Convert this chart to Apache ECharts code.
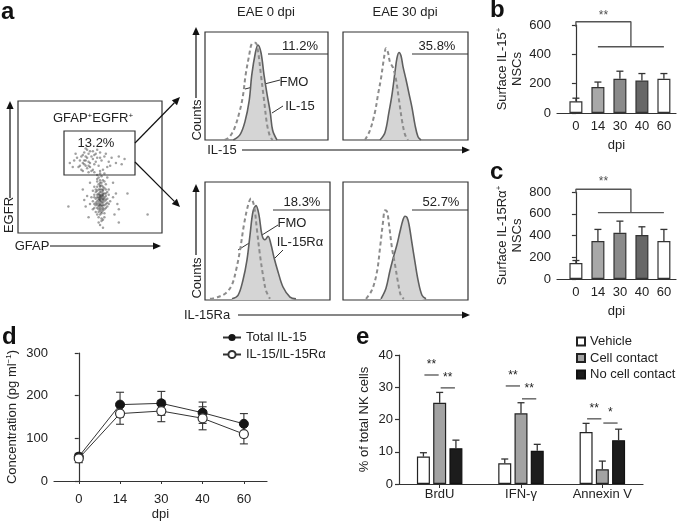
<!DOCTYPE html>
<html>
<head>
<meta charset="utf-8">
<script src="https://cdn.jsdelivr.net/npm/echarts@6.0.0/dist/echarts.min.js"></script>
<style>
  html, body { margin: 0; padding: 0; background: #fff; }
  #chart { width: 678px; height: 523px; }
</style>
</head>
<body>
<div id="chart"></div>
<script>
// ---- 数据 ----
// a: GFAP/EGFR events (GFAP, EGFR in arbitrary units 0-100)
const nscEvents = [
  [57,25],[55,22],[59,28],[56,30],[58,20],[54,26],[60,24],[57,33],[53,19],[61,30],
  [55,35],[58,15],[56,18],[59,21],[54,31],[62,26],[52,24],[57,28],[60,18],[55,27],
  [58,36],[56,12],[53,29],[61,22],[57,38],[59,32],[54,16],[63,29],[51,27],[58,9],
  [56,23],[60,34],[55,14],[57,17],[62,20],[52,32],[59,40],[55,39],[58,26],[54,21],
  [64,24],[50,22],[57,6],[61,37],[56,42],[53,35],[60,12],[63,33],[52,18],[57,45],
  [59,4],[66,27],[48,28],[58,31],[56,27],[55,24],[58,23],[57,21],[59,26],[56,33],
  [58,24],[57,27],[59,23],[56,25],[58,29],[60,27],[57,22],[59,30],[56,20],[58,18],
  [61,25],[55,29],[57,31],[60,21],[58,33],[56,16],[59,19],[57,14],[61,28],[54,23],
  [58,27],[59,25],[57,24],[60,30],[56,29],[58,21],[55,19],[59,35],[57,36],[62,23],
  [53,27],[60,15],[58,11],[56,37],[61,33],[57,29],[59,17],[55,32],[58,38],[60,39],
  [54,33],[62,31],[57,40],[56,8],[59,10],[63,22],[53,22],[58,43],[55,41],[61,19],
  [57,26],[58,28],[59,29],[56,26],[60,26],[57,19],[58,16],[56,21],[59,33],[57,35],
  [47,20],[68,30],[45,33],[70,18],[49,12],[66,38],[46,25],[69,22],[50,38],[67,14]
];
const gatedEvents = [
  [46,55],[48,57],[50,53],[44,58],[52,56],[47,51],[49,60],[45,53],[51,58],[43,55],
  [53,52],[48,49],[46,61],[55,57],[41,57],[50,62],[54,60],[47,58],[58,55],[42,50],
  [49,54],[44,48],[56,51],[52,48],[60,58],[39,55],[57,61],[63,54],[45,47],[51,47],
  [65,57],[40,60],[48,63],[62,50],[36,53],[68,53],[55,63],[59,48],[53,59],[47,55],
  [50,50],[46,52],[49,46],[54,54],[43,51],[52,62],[57,57],[45,59],[61,60],[49,51],
  [64,51],[38,50],[70,58],[53,46],[47,64],[72,52],[74,56]
];
const strayEvents = [[57,47],[55,44],[60,45],[90,14],[76,30],[35,20],[70,8],[62,42]];

// a: histograms [intensity, counts]
const fmoDay0IL15 = [[16,0],[20,3],[24,11],[28.5,28],[31,42],[33,60],[36,79],[38,89],[41,90],[43,83],[45.5,60],[48,37],[50.5,14],[53,3],[55,0]];
const il15Day0 = [[23,0],[28.5,5],[32.5,17],[36,37],[38,60],[41,81],[43,88],[45.5,81],[48,60],[50.5,42],[53,26],[55,9],[58.5,0]];
const fmoDay30IL15 = [[17.6,0],[21.6,9],[25.6,26],[28,42],[30.4,57],[32.8,76],[34.4,85],[36,81],[37.6,72],[40,67],[42.4,56],[44.8,37],[47.2,18],[49.6,5],[52,0]];
const il15Day30 = [[29.6,0],[33.6,7],[36.8,26],[39.2,42],[41.6,63],[43.2,76],[44.8,81],[46.4,78],[48,68],[50.4,56],[52.8,43],[55.2,30],[57.6,14],[60,3],[62.4,0]];
const fmoDay0Ra = [[4,1],[10.4,2.5],[16.8,6],[21.6,13],[24.8,25],[28,42],[31.2,64],[34.4,80],[36.8,86],[39.2,80],[41.6,59],[44,38],[46.4,21],[48.8,8],[52,1]];
const raDay0 = [[21.6,1],[26.4,4],[30.4,17],[33.6,34],[36,55],[38.4,75],[40.8,80],[43.2,72],[45.6,55],[48,51],[50.4,54],[52.8,47],[55.2,36],[58.4,24],[62.4,11],[68,2.5],[72.8,1]];
const fmoDay30Ra = [[18.4,1],[23.2,8.5],[27.2,24],[29.6,44],[32,66],[33.6,76],[35.2,75],[36.8,64],[39.2,44],[41.6,30],[44,15],[46.4,3.4],[48.8,1]];
const raDay30 = [[30.4,1],[34.4,10],[37.6,25],[40.8,38],[43.2,47],[45.6,58],[48,68],[49.6,71],[51.2,70],[52.8,64],[55.2,48],[57.6,32],[60,17],[63.2,4],[66.4,1]];

// b, c: surface NSCs by dpi
const dpiLabels = ['0', '14', '30', '40', '60'];
const surfIL15 = [80, 177, 234, 221, 234];
const surfIL15Err = [21, 34, 51, 48, 35];
const surfIL15Ra = [146, 350, 425, 404, 350];
const surfIL15RaErr = [24, 106, 107, 76, 106];
const barShades = ['#ffffff', '#a8a8a8', '#8a8a8a', '#676767', '#ffffff'];
// 显著性括号 (dpi index, value)
const bBracketTop = [[0, 588], [0, 622], [2.5, 622], [2.5, 452]];
const bBracketBase = [[1, 452], [4, 452]];
const bStar = [[1.25, 662]];
const cBracketTop = [[0, 788], [0, 825], [2.5, 825], [2.5, 610]];
const cBracketBase = [[1, 610], [4, 610]];
const cStar = [[1.25, 898]];

// d: serum concentration (pg/ml)
const totalIL15 = [57, 179, 182, 160, 134];
const totalIL15Err = [8, 29, 28, 25, 24];
const complexIL15 = [53, 158, 164, 147, 110];
const complexIL15Err = [10, 25, 25, 27, 23];

// e: % of total NK cells
const nkGroups = ['BrdU', 'IFN-γ', 'Annexin V'];
const vehicle = [8.5, 6.4, 16.1];
const vehicleErr = [1.2, 1.35, 2.7];
const cellContact = [25.2, 21.9, 4.55];
const cellContactErr = [3.2, 3.3, 2.55];
const noContact = [11.1, 10.3, 13.6];
const noContactErr = [2.5, 2.0, 3.4];
// [group, fromBar, toBar, value]
const nkSig = [[0, 0, 1, 33.8], [0, 1, 2, 29.8], [1, 0, 1, 30.4], [1, 1, 2, 26.4], [2, 0, 1, 20.2], [2, 1, 2, 18.9]];
const nkSigMarks = ['**', '**', '**', '**', '**', '*'];

// ---- 样式 ----
const FONT = '"Liberation Sans", Arial, Helvetica, sans-serif';
const INK = '#222';
const AXIS = '#333';
const BAR_STEP = 16.25;

const chart = echarts.init(document.getElementById('chart'));

function txt(x, y, text, extra) {
  return Object.assign({
    type: 'text', x: x, y: y, silent: true,
    style: Object.assign({
      text: text, fill: INK, fontSize: 13, fontFamily: FONT,
      align: 'center', verticalAlign: 'middle'
    }, (extra && extra.style) || {})
  }, extra && extra.rotation ? { rotation: extra.rotation } : {});
}

function seg(x1, y1, x2, y2, color, width) {
  return {
    type: 'line', silent: true,
    shape: { x1: x1, y1: y1, x2: x2, y2: y2 },
    style: { stroke: color || '#333', lineWidth: width || 1.2 }
  };
}

function arrow(x1, y1, x2, y2) {
  const dx = x2 - x1, dy = y2 - y1, L = Math.hypot(dx, dy);
  const ux = dx / L, uy = dy / L, h = 8, w = 3.6;
  const bx = x2 - ux * h, by = y2 - uy * h;
  return [
    seg(x1, y1, bx, by, '#111', 1.2),
    {
      type: 'polygon', silent: true,
      shape: { points: [[x2, y2], [bx - uy * w, by + ux * w], [bx + uy * w, by - ux * w]] },
      style: { fill: '#111' }
    }
  ];
}

// 误差线（向上）
function errUp(dx) {
  return function (params, api) {
    const x = api.value(0), v = api.value(1), e = api.value(2);
    const a = api.coord([x, v]), b = api.coord([x, v + e]);
    const cx = a[0] + dx;
    return {
      type: 'group', children: [
        { type: 'line', shape: { x1: cx, y1: a[1], x2: cx, y2: b[1] }, style: { stroke: AXIS, lineWidth: 1.3 } },
        { type: 'line', shape: { x1: cx - 3.5, y1: b[1], x2: cx + 3.5, y2: b[1] }, style: { stroke: AXIS, lineWidth: 1.3 } }
      ]
    };
  };
}

// 误差线（上下）
function errBoth(params, api) {
  const x = api.value(0), v = api.value(1), e = api.value(2);
  const t = api.coord([x, v + e]), b = api.coord([x, v - e]);
  return {
    type: 'group', children: [
      { type: 'line', shape: { x1: t[0], y1: t[1], x2: b[0], y2: b[1] }, style: { stroke: AXIS, lineWidth: 1.1 } },
      { type: 'line', shape: { x1: t[0] - 4, y1: t[1], x2: t[0] + 4, y2: t[1] }, style: { stroke: AXIS, lineWidth: 1.1 } },
      { type: 'line', shape: { x1: b[0] - 4, y1: b[1], x2: b[0] + 4, y2: b[1] }, style: { stroke: AXIS, lineWidth: 1.1 } }
    ]
  };
}

function sigLines(params, api) {
  const c = api.coord([api.value(0), api.value(3)]);
  const x1 = c[0] + (api.value(1) - 1) * BAR_STEP;
  const x2 = c[0] + (api.value(2) - 1) * BAR_STEP;
  return {
    type: 'group', children: [
      { type: 'line', shape: { x1: x1 + 1, y1: c[1], x2: x2 - 1, y2: c[1] }, style: { stroke: AXIS, lineWidth: 1.1 } },
      {
        type: 'text', x: (x1 + x2) / 2, y: c[1] - 4,
        style: { text: nkSigMarks[params.dataIndex], fill: INK, fontSize: 12, fontFamily: FONT, align: 'center', verticalAlign: 'bottom' }
      }
    ]
  };
}

const axisLine = { show: true, lineStyle: { color: AXIS, width: 1.2 } };
const yTick = { show: true, length: 4, lineStyle: { color: AXIS, width: 1.2 } };
const tickLabel = { color: INK, fontSize: 13, fontFamily: FONT };
const supRich = { sup: { fontSize: 8, fontFamily: FONT, color: INK, verticalAlign: 'top', lineHeight: 10 } };
const nameStyle = { color: INK, fontSize: 13, fontFamily: FONT, lineHeight: 15, rich: supRich };

function hiddenAxis(i) {
  return { gridIndex: i, type: 'value', min: 0, max: 100, show: false };
}

function dpiAxis(i, min, max, gap, margin, ticks) {
  return {
    gridIndex: i, type: 'value', min: min, max: max,
    name: 'dpi', nameLocation: 'middle', nameGap: gap, nameTextStyle: nameStyle, nameMoveOverlap: false,
    axisLine: axisLine,
    axisTick: ticks ? { show: true, length: 3, customValues: [0, 1, 2, 3, 4], lineStyle: { color: AXIS } } : { show: false },
    axisLabel: Object.assign({ customValues: [0, 1, 2, 3, 4], margin: margin, formatter: v => dpiLabels[Math.round(v)] }, tickLabel),
    splitLine: { show: false }
  };
}

function countAxis(i, max, step, name, gap) {
  return {
    gridIndex: i, type: 'value', min: 0, max: max, interval: step,
    name: name, nameLocation: 'middle', nameRotate: 90, nameGap: gap, nameTextStyle: nameStyle, nameMoveOverlap: false,
    axisLine: axisLine, axisTick: yTick,
    axisLabel: Object.assign({ margin: 6 }, tickLabel),
    splitLine: { show: false }
  };
}

function hist(i, data, dashed) {
  return {
    type: 'line', xAxisIndex: i, yAxisIndex: i, data: data, smooth: 0.35, symbol: 'none', silent: true,
    z: dashed ? 4 : 3,
    lineStyle: dashed ? { color: '#8c8c8c', width: 2, type: [4, 3] } : { color: '#5f5f5f', width: 1.6 },
    areaStyle: dashed ? undefined : { color: '#d5d5d5', opacity: 1 }
  };
}

function bracket(i, data) {
  return {
    type: 'line', xAxisIndex: i, yAxisIndex: i, data: data, symbol: 'none', clip: false, silent: true,
    lineStyle: { color: '#555', width: 1.4 }
  };
}

function star(i, data) {
  return {
    type: 'scatter', xAxisIndex: i, yAxisIndex: i, data: data, symbolSize: 1, clip: false, silent: true,
    itemStyle: { color: 'rgba(0,0,0,0)' },
    label: { show: true, position: 'inside', formatter: '**', color: INK, fontSize: 12, fontFamily: FONT }
  };
}

const letterStyle = { fontSize: 24, fontWeight: 'bold', align: 'left', verticalAlign: 'top', fill: '#111' };

const graphics = [].concat(
  // 面板字母
  txt(1, 0, 'a', { style: letterStyle }),
  txt(490, -2, 'b', { style: letterStyle }),
  txt(490, 160, 'c', { style: letterStyle }),
  txt(2, 325, 'd', { style: letterStyle }),
  txt(356, 325, 'e', { style: letterStyle }),
  // a: 散点图
  { type: 'rect', silent: true, shape: { x: 64, y: 131, width: 71, height: 44 }, style: { fill: 'none', stroke: '#333', lineWidth: 1.2 } },
  txt(93, 118, 'GFAP{s|+}EGFR{s|+}', { style: { rich: { s: { fontSize: 8, fontFamily: FONT, fill: INK, verticalAlign: 'top', lineHeight: 10 } } } }),
  txt(96, 143, '13.2%'),
  txt(9, 215, 'EGFR', { rotation: Math.PI / 2 }),
  txt(32, 246, 'GFAP'),
  arrow(10, 198, 10, 101),
  arrow(50, 246, 161, 246),
  arrow(135, 143, 180, 97),
  arrow(135, 162, 180, 207),
  // a: 直方图
  txt(266, 12, 'EAE 0 dpi'),
  txt(405, 12, 'EAE 30 dpi'),
  txt(197, 120, 'Counts', { rotation: Math.PI / 2 }),
  txt(197, 278, 'Counts', { rotation: Math.PI / 2 }),
  arrow(196, 98, 196, 27),
  arrow(196, 255, 196, 184),
  txt(222, 150, 'IL-15'),
  txt(207, 315, 'IL-15Ra'),
  arrow(242, 150, 470, 150),
  arrow(238, 315, 470, 315),
  txt(300, 46, '11.2%'), seg(268, 54, 328, 54),
  txt(437, 46, '35.8%'), seg(412, 54, 468, 54),
  txt(302, 202, '18.3%'), seg(273, 210, 330, 210),
  txt(441, 202, '52.7%'), seg(412, 210, 468, 210),
  txt(294, 82, 'FMO'), seg(245, 89, 280, 80, '#333', 1),
  txt(300, 106, 'IL-15'), seg(272, 113, 283, 106, '#333', 1),
  txt(292, 223, 'FMO'), seg(238, 250, 278, 225, '#333', 1),
  txt(300, 242, 'IL-15Rα'), seg(273, 260, 283, 250, '#333', 1)
);

const boxGrid = { show: true, borderColor: '#333', borderWidth: 1.2, backgroundColor: 'transparent' };

const option = {
  animation: false,
  backgroundColor: '#fff',
  textStyle: { fontFamily: FONT },
  graphic: graphics,
  grid: [
    Object.assign({ left: 18, top: 101, width: 144, height: 132 }, boxGrid),
    Object.assign({ left: 205, top: 32, width: 123, height: 108 }, boxGrid),
    Object.assign({ left: 343, top: 32, width: 125, height: 108 }, boxGrid),
    Object.assign({ left: 205, top: 182, width: 125, height: 118 }, boxGrid),
    Object.assign({ left: 343, top: 182, width: 125, height: 118 }, boxGrid),
    { left: 557, top: 25, width: 119, height: 88 },
    { left: 557, top: 192, width: 119, height: 87 },
    { left: 54, top: 353, width: 213, height: 131 },
    { left: 399, top: 355, width: 244, height: 129 }
  ],
  xAxis: [
    hiddenAxis(0), hiddenAxis(1), hiddenAxis(2), hiddenAxis(3), hiddenAxis(4),
    dpiAxis(5, -0.86, 4.55, 25, 7, false),
    dpiAxis(6, -0.86, 4.55, 25, 7, false),
    dpiAxis(7, -0.6, 4.56, 26, 12, true),
    {
      gridIndex: 8, type: 'category', data: nkGroups,
      axisLine: axisLine,
      axisTick: { show: true, alignWithLabel: true, length: 4, lineStyle: { color: AXIS } },
      axisLabel: Object.assign({ margin: 4, interval: 0 }, tickLabel)
    }
  ],
  yAxis: [
    hiddenAxis(0), hiddenAxis(1), hiddenAxis(2), hiddenAxis(3), hiddenAxis(4),
    countAxis(5, 600, 200, 'Surface IL-15{sup|+}\nNSCs', 32),
    countAxis(6, 800, 200, 'Surface IL-15Rα{sup|+}\nNSCs', 32),
    countAxis(7, 300, 100, 'Concentration (pg ml{sup|−1})', 34),
    countAxis(8, 40, 10, '% of total NK cells', 27)
  ],
  legend: [
    {
      data: ['Total IL-15', 'IL-15/IL-15Rα'], orient: 'vertical', left: 222, top: 331, padding: 0,
      itemWidth: 18, itemHeight: 9, itemGap: 4, selectedMode: false,
      textStyle: { color: INK, fontSize: 13, fontFamily: FONT }
    },
    {
      data: ['Vehicle', 'Cell contact', 'No cell contact'], orient: 'vertical', left: 576, top: 335, padding: 0,
      itemWidth: 8, itemHeight: 8, itemGap: 3.5, selectedMode: false, icon: 'rect',
      textStyle: { color: INK, fontSize: 13, fontFamily: FONT }
    }
  ],
  series: [
    // a
    {
      type: 'scatter', xAxisIndex: 0, yAxisIndex: 0, silent: true, symbolSize: 2.5,
      data: nscEvents.concat(gatedEvents, strayEvents),
      itemStyle: { color: 'rgba(40,40,40,0.55)' }
    },
    hist(1, il15Day0, false), hist(1, fmoDay0IL15, true),
    hist(2, il15Day30, false), hist(2, fmoDay30IL15, true),
    hist(3, raDay0, false), hist(3, fmoDay0Ra, true),
    hist(4, raDay30, false), hist(4, fmoDay30Ra, true),
    // b
    {
      type: 'bar', xAxisIndex: 5, yAxisIndex: 5, barWidth: 13, silent: true,
      data: surfIL15.map((v, i) => ({ value: [i, v], itemStyle: { color: barShades[i] } })),
      itemStyle: { borderColor: '#333', borderWidth: 1.2 }
    },
    { type: 'custom', xAxisIndex: 5, yAxisIndex: 5, silent: true, renderItem: errUp(0), data: surfIL15.map((v, i) => [i, v, surfIL15Err[i]]) },
    bracket(5, bBracketTop), bracket(5, bBracketBase), star(5, bStar),
    // c
    {
      type: 'bar', xAxisIndex: 6, yAxisIndex: 6, barWidth: 13, silent: true,
      data: surfIL15Ra.map((v, i) => ({ value: [i, v], itemStyle: { color: barShades[i] } })),
      itemStyle: { borderColor: '#333', borderWidth: 1.2 }
    },
    { type: 'custom', xAxisIndex: 6, yAxisIndex: 6, silent: true, renderItem: errUp(0), data: surfIL15Ra.map((v, i) => [i, v, surfIL15RaErr[i]]) },
    bracket(6, cBracketTop), bracket(6, cBracketBase), star(6, cStar),
    // d
    { type: 'custom', xAxisIndex: 7, yAxisIndex: 7, silent: true, z: 1, renderItem: errBoth, data: totalIL15.map((v, i) => [i, v, totalIL15Err[i]]) },
    { type: 'custom', xAxisIndex: 7, yAxisIndex: 7, silent: true, z: 1, renderItem: errBoth, data: complexIL15.map((v, i) => [i, v, complexIL15Err[i]]) },
    {
      name: 'Total IL-15', type: 'line', xAxisIndex: 7, yAxisIndex: 7, z: 3, silent: true,
      data: totalIL15.map((v, i) => [i, v]), symbol: 'circle', symbolSize: 9,
      itemStyle: { color: '#151515', borderColor: '#151515' }, lineStyle: { color: '#333', width: 1 }
    },
    {
      name: 'IL-15/IL-15Rα', type: 'line', xAxisIndex: 7, yAxisIndex: 7, z: 4, silent: true,
      data: complexIL15.map((v, i) => [i, v]), symbol: 'circle', symbolSize: 9,
      itemStyle: { color: '#ffffff', borderColor: '#333', borderWidth: 1.2 }, lineStyle: { color: '#333', width: 1 }
    },
    // e
    {
      name: 'Vehicle', type: 'bar', xAxisIndex: 8, yAxisIndex: 8, barWidth: 13, barGap: '25%', silent: true,
      data: vehicle, itemStyle: { color: '#ffffff', borderColor: '#222', borderWidth: 1.2 }
    },
    {
      name: 'Cell contact', type: 'bar', xAxisIndex: 8, yAxisIndex: 8, barWidth: 13, barGap: '25%', silent: true,
      data: cellContact, itemStyle: { color: '#a3a3a3', borderColor: '#222', borderWidth: 1.2 }
    },
    {
      name: 'No cell contact', type: 'bar', xAxisIndex: 8, yAxisIndex: 8, barWidth: 13, barGap: '25%', silent: true,
      data: noContact, itemStyle: { color: '#1c1c1c', borderColor: '#111', borderWidth: 1.2 }
    },
    { type: 'custom', xAxisIndex: 8, yAxisIndex: 8, silent: true, renderItem: errUp(-BAR_STEP), data: vehicle.map((v, i) => [i, v, vehicleErr[i]]) },
    { type: 'custom', xAxisIndex: 8, yAxisIndex: 8, silent: true, renderItem: errUp(0), data: cellContact.map((v, i) => [i, v, cellContactErr[i]]) },
    { type: 'custom', xAxisIndex: 8, yAxisIndex: 8, silent: true, renderItem: errUp(BAR_STEP), data: noContact.map((v, i) => [i, v, noContactErr[i]]) },
    { type: 'custom', xAxisIndex: 8, yAxisIndex: 8, silent: true, renderItem: sigLines, data: nkSig }
  ]
};

chart.setOption(option);
</script>
</body>
</html>
